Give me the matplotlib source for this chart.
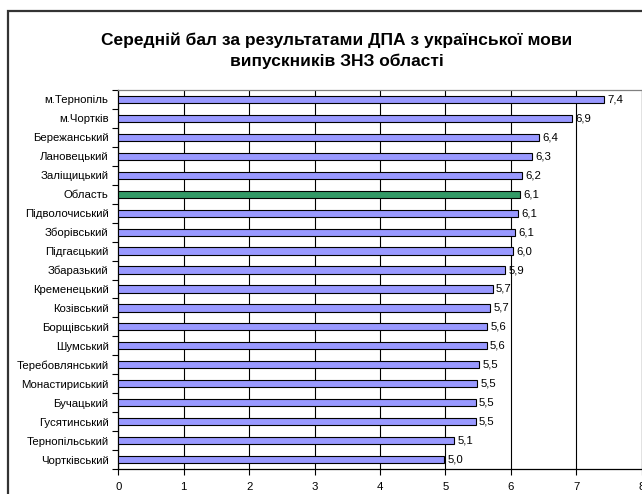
import matplotlib
matplotlib.use("Agg")
import matplotlib.pyplot as plt
from matplotlib.patches import Rectangle
import numpy as np

plt.rcParams['font.family'] = ['Liberation Sans', 'DejaVu Sans']

title = "Середній бал за результатами ДПА з української мови\nвипускників ЗНЗ області"
categories = ["м.Тернопіль", "м.Чортків", "Бережанський", "Лановецький", "Заліщицький",
              "Область", "Підволочиський", "Зборівський", "Підгаєцький", "Збаразький",
              "Кременецький", "Козівський", "Борщівський", "Шумський", "Теребовлянський",
              "Монастириський", "Бучацький", "Гусятинський", "Тернопільський", "Чортківський"]
values = [7.43, 6.94, 6.43, 6.32, 6.17, 6.14, 6.11, 6.07, 6.04, 5.91,
          5.72, 5.68, 5.64, 5.63, 5.52, 5.49, 5.46, 5.46, 5.13, 4.98]
highlight = "Область"
xticks = [0, 1, 2, 3, 4, 5, 6, 7, 8]

W, H = 642, 494
FS = 8.2
fig = plt.figure(figsize=(W / 100, H / 100), dpi=100)
fig.patch.set_facecolor("white")

# outer chart border (clipped on right/bottom like the reference)
fig.patches.append(Rectangle((8 / W, -0.1), 1.2, (H - 11) / H + 0.1,
                             transform=fig.transFigure, fill=False,
                             edgecolor="#333333", linewidth=1.6, zorder=0))

ax = fig.add_axes([118.3 / W, 25 / H, 523.4 / W, 379 / H])
y = np.arange(len(categories))
colors = ["#339966" if c == highlight else "#9999FF" for c in categories]
ax.barh(y, values, height=0.38, color=colors, edgecolor="black", linewidth=0.8, zorder=3)

for yi, v in zip(y, values):
    ax.text(v + 0.05, yi, f"{v:.1f}".replace(".", ","), va="center", ha="left",
            fontsize=FS, zorder=4)

ax.set_xlim(0, 8)
ax.set_ylim(len(categories) - 0.5, -0.5)
ax.set_xticks(xticks)
ax.set_xticklabels([str(t) for t in xticks], fontsize=FS)
ax.set_yticks(y)
ax.set_yticklabels(categories, fontsize=FS)
ax.tick_params(axis="y", which="major", length=0, pad=7)
ax.set_yticks(np.arange(-0.5, len(categories), 1), minor=True)
ax.tick_params(axis="y", which="minor", length=4, width=0.8, direction="out")
ax.tick_params(axis="x", which="major", length=4, width=0.8, direction="out", pad=5)
ax.xaxis.grid(True, color="black", linewidth=0.8, zorder=0)
ax.set_axisbelow(True)
for s in ["left", "bottom"]:
    ax.spines[s].set_color("black")
    ax.spines[s].set_linewidth(0.9)
for s in ["top", "right"]:
    ax.spines[s].set_color("#808080")
    ax.spines[s].set_linewidth(0.9)

fig.text(337 / W, 1 - 51 / H, title, ha="center", va="center", fontsize=12.5,
         fontweight="bold", linespacing=1.45)

fig.savefig("out.png", dpi=100)
